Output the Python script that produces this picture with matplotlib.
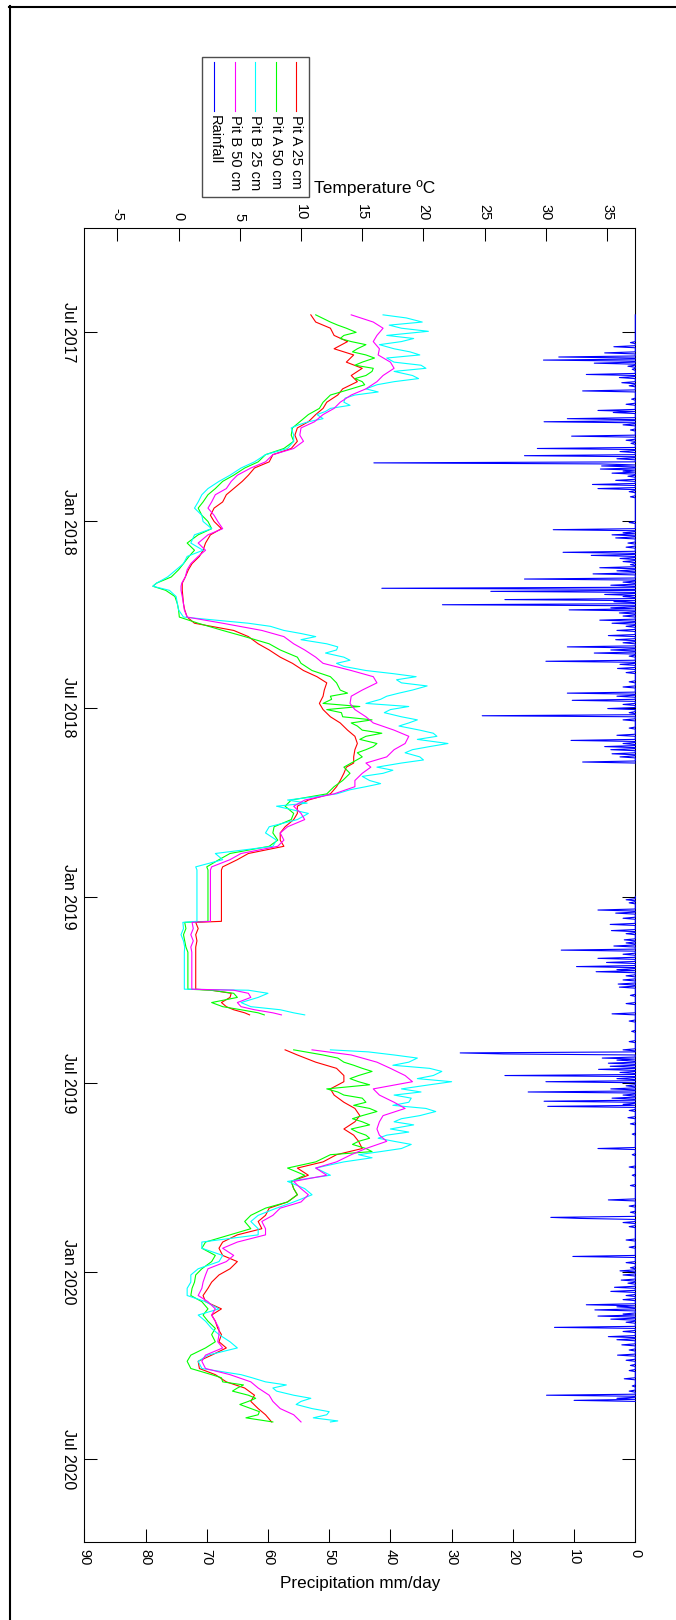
import numpy as np
import pandas as pd
import matplotlib
matplotlib.use('Agg')
import matplotlib.pyplot as plt
import matplotlib.dates as mdates
from matplotlib.lines import Line2D
from matplotlib.patches import Rectangle

plt.rcParams['font.family'] = ['Liberation Sans', 'DejaVu Sans']

#=== data (days counted from 1 Jul 2017) ===
BASE = pd.Timestamp('2017-07-01')

# Jun 2017 .. Dec 2018, logger hold + short spring 2019 record
days_early = [-17, -10, -4, 3, 9, 16, 22, 29, 35, 42, 48, 55, 61, 68, 74, 80, 87, 93, 100, 106,
              113, 119, 126, 132, 139, 145, 152, 158, 165, 171, 178, 184, 191, 197,
              205, 212, 218, 225, 231, 238, 244, 247, 251, 257, 264, 270, 277, 283, 290, 296,
              303, 309, 316, 322, 329, 335, 341, 348, 354, 361, 367, 374, 380, 387, 393, 400,
              406, 413, 419,
              423, 429, 436, 442, 449, 455, 461, 468, 474, 481, 487, 494, 500, 507, 513, 520, 523,
              573, 574, 580, 586, 592, 598, 603, 639,
              640, 643, 647, 652, 656, 659, 662, 664]
# Jun 2019 .. Jun 2020
days_late = [698, 703, 710, 716, 723, 729, 736, 742, 749, 755, 762, 768, 775, 781, 787, 794,
             800, 807, 813, 820, 826, 833, 839, 846, 852, 859, 865, 872,
             878, 885, 891, 898, 904, 911, 917, 924, 930, 937, 943, 950, 956, 962, 969, 975,
             982, 988, 995, 1001, 1008, 1014, 1021, 1027, 1034, 1040, 1047, 1053, 1060]

pitA25_early = [10.8, 11.2, 12.4, 12.7, 13.8, 12.7, 14.3, 13.7, 15.0, 14.1, 14.6, 13.4, 13.0, 12.1,
                11.8, 11.2, 10.6, 9.7, 9.5, 9.7, 9.2, 7.7, 7.4, 6.2, 5.7, 5.2, 4.5, 3.9, 3.6, 2.9,
                2.6, 2.9, 3.5, 2.6,
                2.2, 2.0, 1.7, 1.1, 0.8, 0.55, 0.3, 0.3, 0.3, 0.35, 0.4, 0.5, 0.7, 1.3, 4.5, 5.7,
                6.5, 7.4, 8.3, 9.3, 10.2, 11.3, 12.1, 11.9, 11.8, 11.5, 11.8, 12.4, 13.2, 13.8,
                14.4, 14.6, 14.4, 14.3, 14.3,
                13.7, 13.5, 13.2, 12.9, 12.4, 10.6, 9.7, 9.7, 9.4, 8.7, 8.3, 8.3, 8.6, 5.7, 4.8,
                3.6, 3.5,
                3.5, 1.4, 1.6, 1.4, 1.5, 1.4, 1.4, 1.4,
                2.7, 4.3, 4.2, 3.5, 3.9, 4.5, 5.4, 5.8]
pitA50_early = [11.2, 12.4, 13.7, 13.5, 14.1, 14.6, 15.3, 15.0, 15.9, 15.3, 15.0, 14.1, 12.4, 11.8,
                11.5, 10.6, 9.9, 9.3, 9.2, 9.4, 8.6, 7.1, 6.5, 5.4, 4.5, 3.6, 3.0, 2.4, 2.0, 1.6,
                1.9, 2.4, 2.7, 1.6,
                0.7, 1.3, 0.85, 0.4, 0.0, -0.6, -1.8, -2.1, -1.05, -0.3, -0.1, 0.0, 0.06, 1.6,
                3.6, 5.4, 7.4, 8.3, 9.7, 10.0, 10.9, 12.4, 12.9, 13.2, 12.4, 11.8, 12.1, 13.4,
                14.1, 15.0, 15.3, 16.2, 15.3, 15.0, 14.1,
                13.5, 14.0, 13.4, 12.7, 12.1, 9.2, 8.7, 9.4, 9.2, 7.8, 7.7, 8.1, 7.4, 4.2, 3.3,
                2.3, 2.4,
                2.4, 0.5, 0.6, 0.4, 0.5, 0.6, 0.76, 0.76,
                2.6, 4.5, 4.8, 2.7, 3.6, 5.1, 6.5, 7.0]
pitB25_early = [16.7, 19.9, 18.2, 17.0, 18.2, 17.6, 19.7, 17.6, 20.2, 19.1, 17.6, 15.3, 14.4, 13.5,
                12.4, 11.3, 10.6, 9.2, 9.4, 9.4, 8.9, 7.1, 6.2, 5.1, 4.2, 3.3, 2.4, 1.9, 1.6, 1.3,
                1.9, 2.0, 2.7, 1.3,
                1.0, 2.0, 0.7, 0.4, -0.2, -0.9, -1.8, -2.1, -0.75, -0.2, -0.1, 0.0, 0.4, 5.7,
                8.6, 11.2, 12.1, 12.9, 13.5, 12.9, 15.3, 19.4, 18.2, 19.1, 17.0, 15.3, 17.3, 18.2,
                18.8, 19.7, 21.1, 22.0, 19.1, 19.7, 18.2,
                16.2, 16.7, 15.6, 15.3, 12.9, 8.9, 8.0, 10.6, 9.7, 7.4, 7.1, 8.0, 7.7, 3.0, 3.6,
                1.4, 1.5,
                1.5, 0.35, 0.4, 0.2, 0.4, 0.5, 0.47, 0.47,
                5.7, 7.3, 6.5, 5.1, 5.9, 8.3, 9.4, 10.3]
pitB50_early = [14.1, 15.9, 16.7, 16.2, 15.9, 16.4, 16.3, 17.3, 17.6, 16.7, 16.2, 15.3, 14.1, 13.2,
                12.7, 11.8, 11.1, 10.0, 9.9, 10.2, 9.4, 7.7, 7.1, 5.9, 4.8, 4.3, 3.9, 3.0, 2.7, 2.4,
                2.9, 3.2, 3.6, 2.4,
                1.6, 2.2, 1.6, 1.0, 0.7, 0.55, 0.26, 0.2, 0.2, 0.3, 0.4, 0.47, 0.7, 3.6, 6.8,
                8.6, 9.4, 10.3, 11.2, 11.8, 14.1, 15.9, 16.2, 15.0, 14.1, 14.0, 14.4, 15.3, 15.9,
                17.6, 18.8, 18.5, 17.6, 17.0, 15.3,
                15.7, 15.0, 14.4, 14.4, 12.7, 10.3, 9.4, 10.0, 10.3, 8.9, 8.3, 8.6, 8.1, 5.1, 4.2,
                2.7, 2.6,
                2.6, 1.1, 1.2, 1.0, 1.2, 1.0, 1.08, 1.08,
                4.5, 5.7, 5.9, 4.8, 5.1, 6.2, 7.7, 8.4]

pitA25_late = [8.7, 9.7, 11.2, 12.9, 13.5, 13.5, 12.4, 12.7, 13.5, 14.4, 14.8, 14.4, 13.5, 14.3,
               14.7, 15.0, 12.9, 11.8, 9.7, 10.6, 9.2, 9.4, 9.7, 8.9, 7.4, 7.1, 6.5, 6.8,
               4.8, 3.6, 3.3, 3.6, 4.8, 4.2, 3.3, 2.7, 2.4, 2.0, 2.2, 3.5, 2.7, 3.0, 3.2, 3.5,
               3.3, 3.9, 2.7, 1.6, 1.7, 3.0, 3.9, 5.4, 6.2, 5.9, 6.5, 7.1, 7.6]
pitA50_late = [9.4, 11.8, 13.5, 15.0, 14.7, 14.7, 12.1, 13.5, 15.3, 15.6, 15.0, 15.0, 14.1, 15.3,
               14.7, 15.3, 12.4, 11.2, 8.9, 10.3, 9.2, 9.4, 9.7, 8.9, 7.1, 5.9, 5.4, 5.9,
               4.2, 2.2, 1.9, 3.0, 2.7, 1.9, 1.4, 1.3, 1.1, 1.0, 1.9, 2.4, 2.0, 2.4, 3.0, 2.7,
               3.0, 2.2, 1.0, 0.7, 1.0, 2.7, 3.6, 4.8, 5.7, 5.7, 5.9, 6.5, 7.7]
pitB25_late = [12.4, 17.6, 18.8, 20.5, 20.8, 22.3, 18.2, 17.6, 18.8, 20.2, 19.7, 17.6, 17.3, 17.0,
               17.6, 18.2, 14.7, 13.5, 11.2, 12.4, 8.9, 10.3, 10.9, 9.4, 8.0, 6.5, 5.9, 6.5,
               6.5, 1.9, 1.9, 3.6, 3.3, 1.6, 1.0, 1.0, 0.7, 0.7, 2.2, 3.3, 1.6, 2.2, 2.7, 3.3,
               4.2, 4.8, 2.4, 1.6, 1.9, 5.1, 7.1, 7.7, 9.4, 10.0, 10.9, 12.1, 12.4]
pitB50_late = [10.9, 14.1, 16.2, 17.3, 18.5, 19.1, 15.9, 16.4, 17.6, 18.5, 16.7, 16.4, 16.2, 16.4,
               17.0, 15.3, 14.1, 12.9, 11.2, 12.1, 9.4, 10.0, 10.6, 10.0, 8.3, 7.7, 6.8, 7.1,
               7.1, 4.8, 3.6, 4.5, 3.9, 2.4, 2.2, 2.0, 1.9, 1.6, 2.4, 3.0, 2.7, 3.0, 3.3, 3.3,
               3.2, 3.6, 2.2, 1.9, 2.2, 4.2, 5.9, 6.5, 7.4, 7.7, 8.3, 9.4, 10.0]

# extra readings of the day-to-day swings of the shallow / noisy probes in the warm months
pitB25_extra_days = [-14, -7, -1, 6, 12, 19, 25, 32, 38, 45, 51, 58, 64, 71, 77, 84, 90,
                     286, 293, 299, 306, 312, 319, 325, 332, 338, 344, 351, 357, 364, 370, 377,
                     383, 390, 396, 403, 409, 416, 426, 432, 439, 445, 452, 458,
                     700, 706, 713, 719, 726, 732, 739, 745, 752, 758, 765, 771, 778, 784, 790,
                     797, 803, 1017, 1024, 1030, 1037, 1043, 1050, 1056, 1059]
pitB25_extra_vals = [18.6, 17.2, 20.4, 19.2, 16.4, 18.9, 17.0, 19.8, 17.6, 19.6, 16.2, 16.3, 13.6,
                     14.0, 12.0, 11.8, 9.8,
                     7.5, 10.0, 10.0, 13.0, 12.0, 14.0, 13.5, 17.5, 17.8, 20.3, 18.0, 16.5, 18.8,
                     16.8, 19.5, 18.0, 20.8, 19.5, 20.5, 18.5, 20.0, 17.5, 15.0, 16.5, 14.0,
                     11.0, 10.5,
                     15.5, 19.5, 17.5, 21.5, 19.5, 20.5, 19.8, 19.0, 17.5, 21.0, 18.2, 19.2, 18.8,
                     16.3, 19.0, 16.5, 15.8, 6.0, 8.8, 8.0, 10.8, 9.6, 12.3, 11.0, 13.0]
pitA50_extra_days = [-7, 0, 6, 12, 19, 25, 32, 38, 45, 51,
                     351, 357, 364, 370, 377, 383, 390, 396, 403, 409,
                     706, 713, 719, 726, 732, 739, 745, 752, 758, 765, 771, 778, 784, 790, 797,
                     1017, 1024, 1030, 1037, 1043, 1050, 1056]
pitA50_extra_vals = [13.0, 14.5, 13.2, 15.3, 14.2, 16.0, 14.4, 15.8, 14.4, 15.2,
                     13.8, 12.5, 14.8, 13.3, 15.8, 14.6, 16.6, 14.8, 15.9, 14.6,
                     13.0, 14.3, 15.8, 14.0, 15.6, 13.0, 15.0, 14.3, 16.2, 14.2, 15.6, 14.6,
                     15.6, 14.2, 15.8,
                     3.5, 5.3, 4.4, 6.3, 5.0, 6.6, 5.5]

# daily rainfall, only the wet days (mm/day); records cover two periods
rain_periods = [(-17, 419), (549, 1040)]
rain_day = [10, 14, 20, 24, 27, 30, 33, 36, 41, 44, 49, 52, 57, 65, 70, 76, 78, 84, 87, 90, 95,
            101, 105, 108, 113, 116, 120, 123, 127, 128, 130, 133, 135, 137, 140, 144, 148, 152,
            155, 160, 185, 192, 195, 197, 200, 205, 209, 214, 217, 220, 223, 226, 229, 232, 235,
            240, 243, 246, 249, 252, 255, 257, 260, 262, 265, 268, 270, 273, 276, 280, 283, 286,
            290, 295, 299, 302, 306, 309, 312, 315, 320, 323, 327, 331, 340, 345, 351, 354, 358,
            362, 366, 370, 373, 377, 385, 392, 397, 400, 403, 406, 410, 413, 418,
            552, 555, 562, 565, 570, 576, 582, 585, 591, 594, 597, 601, 605, 609, 613, 617, 620,
            622, 626, 630, 634, 637, 645, 653, 663, 670, 680, 690, 698, 701, 702, 706, 708, 711,
            714, 717, 720, 723, 726, 729, 733, 736, 739, 742, 745, 748, 751, 753, 757, 764, 770,
            780, 794, 800, 812, 820, 830, 844, 850, 856, 861, 862, 866, 870, 883, 890, 899, 905,
            910, 913, 917, 922, 925, 929, 933, 937, 941, 946, 948, 951, 955, 957, 960, 963, 968,
            972, 977, 980, 985, 990, 995, 1000, 1005, 1010, 1018, 1025, 1030, 1034, 1037, 1039]
rain_mm = [0.8, 3.5, 5.0, 12.5, 15.0, 6.7, 1.2, 0.5, 8.0, 2.6, 2.2, 1.0, 8.6, 0.6, 1.5, 6.1, 3.6,
           11.1, 14.9, 2.0, 0.8,
           10.4, 1.5, 0.7, 16.0, 2.5, 18.1, 3.0, 42.7, 5.8, 5.5, 5.7, 2.0, 3.8, 1.2, 3.2, 7.0, 6.1,
           1.0, 0.8, 1.0, 13.4, 2.0, 3.8, 3.2, 1.2, 1.5, 11.8, 7.2, 2.5, 2.0, 0.8, 5.8, 3.0, 6.9,
           18.1, 2.0, 4.0, 41.4, 23.6, 5.0, 2.0, 21.3, 3.5, 31.5, 4.0, 10.8, 2.6, 2.0, 5.8, 3.8, 1.5,
           3.0, 4.4, 3.2, 2.0, 11.1, 4.0, 6.7, 1.0, 14.6, 2.5, 2.9, 1.5, 1.0, 2.0, 11.1, 3.0, 10.3,
           2.0, 4.5, 1.0, 25.0, 2.0, 1.0, 3.0, 10.5, 2.0, 5.0, 4.0, 3.8, 2.5, 8.6,
           1.5, 1.0, 6.1, 3.2, 2.0, 4.1, 3.9, 1.5, 1.8, 1.5, 3.5, 12.1, 2.0, 6.1, 4.7, 9.6, 3.0,
           6.4, 1.5, 2.0, 2.8, 2.6, 0.8, 1.5, 3.8, 1.0, 0.6, 1.0, 2.0, 28.6, 21.5, 5.4, 3.0, 4.4,
           4.1, 6.0, 2.5, 21.3, 3.0, 14.6, 1.5, 4.0, 17.5, 2.0, 3.8, 14.9, 2.0, 14.3, 1.0, 1.2, 0.8,
           0.5, 6.1, 0.5, 1.0, 0.5, 0.8, 4.4, 1.0, 0.8, 13.8, 9.0, 2.0, 1.0, 1.5, 1.0, 10.2, 1.5,
           0.8, 2.5, 2.0, 2.3, 1.2, 3.4, 4.0, 1.5, 2.0, 8.0, 3.0, 6.6, 2.0, 6.1, 4.0, 1.5, 13.2,
           2.0, 4.4, 3.0, 2.2, 1.0, 2.9, 1.5, 0.8, 1.0, 1.8, 0.5, 1.0, 14.5, 3.0, 10.0]

series_names = ['Pit A 25 cm', 'Pit A 50 cm', 'Pit B 25 cm', 'Pit B 50 cm']
series_colors = ['#ff0000', '#00ff00', '#00ffff', '#ff00ff']
rain_color = '#0000ff'

date_ticks = ['2017-07-01', '2018-01-01', '2018-07-01', '2019-01-01',
              '2019-07-01', '2020-01-01', '2020-07-01']
date_labels = ['Jul 2017', 'Jan 2018', 'Jul 2018', 'Jan 2019',
               'Jul 2019', 'Jan 2020', 'Jul 2020']
temp_ticks = [-5, 0, 5, 10, 15, 20, 25, 30, 35]
rain_ticks = [0, 10, 20, 30, 40, 50, 60, 70, 80, 90]


def to_num(days):
	""" days after BASE -> matplotlib date numbers """
	d = BASE + pd.to_timedelta(np.asarray(days, dtype=float), unit='D')
	return mdates.date2num(d.to_pydatetime())


#=== layout helpers (pixel coords of the 676x1620 canvas) ===
W, H = 676, 1620
def fx(x):
	return x / W
def fy(y):
	return 1 - y / H

fig = plt.figure(figsize=(W / 100, H / 100), dpi=100)
ax = fig.add_axes([fx(84.3), fy(1541.5), (635.3 - 84.3) / W, (1541.5 - 228.3) / H])

# temperature series, one gap between the spring 2019 piece and the summer record
early = [pitA25_early, pitA50_early, pitB25_early, pitB50_early]
late = [pitA25_late, pitA50_late, pitB25_late, pitB50_late]
extras = [([], []), (pitA50_extra_days, pitA50_extra_vals),
		  (pitB25_extra_days, pitB25_extra_vals), ([], [])]
for vals_e, vals_l, (xd, xv), col, name in zip(early, late, extras, series_colors, series_names):
	d = np.array(days_early + [680] + days_late + xd, dtype=float)
	v = np.array(vals_e + [np.nan] + vals_l + xv, dtype=float)
	order = np.argsort(d, kind='stable')
	ax.plot(v[order], to_num(d[order]), color=col, lw=0.8, label=name)

ax.set_xlim(-7.7, 37.3)
ax.set_ylim(to_num([1176.3])[0], to_num([-101.2])[0])

# rainfall on a reversed axis hanging from the right side
rx, ry = [], []
for d0, d1 in rain_periods:
	dd = np.arange(d0, d1 + 1)
	mm = np.zeros(len(dd))
	for d, v in zip(rain_day, rain_mm):
		if d0 <= d <= d1:
			mm[d - d0] = v
	rx += list(mm) + [np.nan]
	ry += list(dd) + [d1 + 1]

ax2 = ax.twiny()   # NOTE twiny moves ax ticks to the bottom, so ticks are set after it
ax2.plot(rx, to_num(ry), color=rain_color, lw=0.8, clip_on=False, zorder=5)
ax2.set_xlim(90, 0)
ax2.set_xticks(rain_ticks)
ax2.set_xticklabels([str(r) for r in rain_ticks])
ax2.xaxis.set_ticks_position('bottom')
ax2.xaxis.set_label_position('bottom')
ax2.tick_params(axis='x', direction='in', length=9.7, width=0.75, top=False, bottom=True,
				labeltop=False, labelbottom=True, labelrotation=-90, labelsize=10.5, pad=5.5)

ax.set_xticks(temp_ticks)
ax.set_xticklabels([str(t) for t in temp_ticks])
ax.xaxis.set_ticks_position('top')
ax.xaxis.set_label_position('top')
ax.tick_params(axis='x', direction='in', length=9.7, width=0.75, top=True, bottom=False,
			   labeltop=True, labelbottom=False, labelrotation=-90, labelsize=10.5, pad=5.5)
ax.set_yticks(to_num([(pd.Timestamp(d) - BASE).days for d in date_ticks]))
ax.set_yticklabels(date_labels)
ax.tick_params(axis='y', direction='in', length=9.7, width=0.75, left=True, right=True,
			   labelleft=True, labelright=False, labelrotation=-90, labelsize=11.5, pad=6)
for lab in ax.get_yticklabels():
	lab.set_va('center')

for a in (ax, ax2):
	for sp in a.spines.values():
		sp.set_linewidth(0.75)
		sp.set_color('black')

# axis titles are written horizontally
fig.text(fx(374.5), fy(193), 'Temperature ºC', ha='center', va='baseline', fontsize=12.5)
fig.text(fx(360), fy(1588), 'Precipitation mm/day', ha='center', va='baseline', fontsize=12.3)

#NOTE legend drawn by hand because the entries are turned by 90 degrees
fig.add_artist(Rectangle((fx(202.3), fy(197.3)), (308.9 - 202.3) / W, (197.3 - 56.7) / H,
						 transform=fig.transFigure, fill=False, edgecolor='0.3', lw=1))
leg_x = [296.4, 276.1, 255.4, 235.1, 214.4]
for lx, col, name in zip(leg_x, series_colors + [rain_color], series_names + ['Rainfall']):
	fig.add_artist(Line2D([fx(lx), fx(lx)], [fy(61.7), fy(110.7)],
						  transform=fig.transFigure, color=col, lw=0.8))
	fig.text(fx(lx), fy(115), name, rotation=-90, ha='center', va='top', fontsize=10.5)

# outer frame (top and left edge only)
fig.add_artist(Line2D([fx(8.5), fx(676)], [fy(6.7), fy(6.7)], transform=fig.transFigure,
					  color='black', lw=1.5))
fig.add_artist(Line2D([fx(9.5), fx(9.5)], [fy(6), fy(1620)], transform=fig.transFigure,
					  color='black', lw=1.5))

fig.savefig('out.png', dpi=100)
